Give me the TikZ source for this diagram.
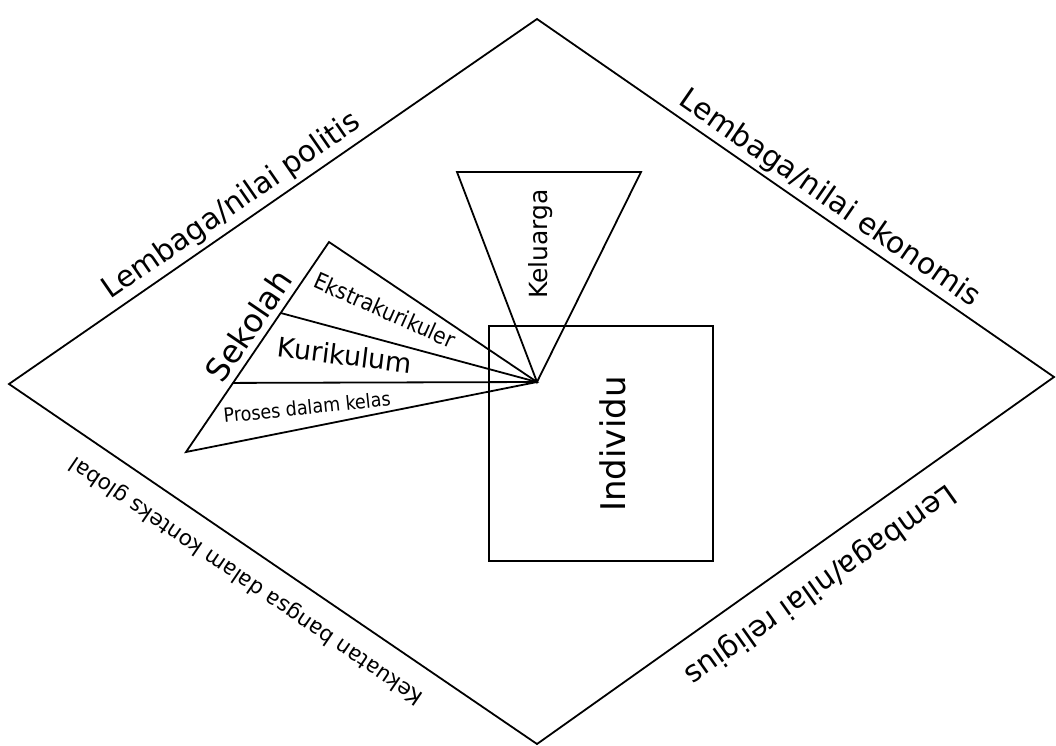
\documentclass[tikz,border=0pt]{standalone}
\usepackage{fontspec}
\setmainfont{DejaVu Sans}
\newfontfamily\condfont{DejaVu Sans Condensed}
\usetikzlibrary{calc}
\tikzstyle{edge} = [line width=1.8pt, line join=miter]
\tikzstyle{rim} = [font=\fontsize{29.5}{36}\selectfont, inner sep=2pt]
\tikzstyle{part} = [font=\fontsize{26}{30}\selectfont, inner sep=0pt]
\tikzstyle{sub} = [font=\condfont\fontsize{22.5}{27}\selectfont, inner sep=0pt]

\begin{document}
\begin{tikzpicture}[x=1pt, y=-1pt]
	\useasboundingbox (0,0) rectangle (1056,745);
	% outer diamond
	\coordinate (top) at (537,19);
	\coordinate (left) at (9,384);
	\coordinate (bottom) at (537,744);
	\coordinate (right) at (1054,377);
	\draw[edge] (top) -- (right) -- (bottom) -- (left) -- cycle;
	\path (left) -- (top) node[rim, sloped, pos=.443, above=3pt] {Lembaga/nilai politis};
	\path (top) -- (right) node[rim, sloped, pos=.545, above=2pt] {Lembaga/nilai ekonomis};
	\path (right) -- (bottom) node[rim, sloped, allow upside down, pos=.49, above=17pt] {Lembaga/nilai religius};
	\path (bottom) -- (left) node[rim, sloped, allow upside down, pos=.52, above=16pt, font=\fontsize{21.5}{26}\selectfont] {Kekuatan bangsa dalam konteks global};

	% individu
	\node (indiv) [draw, line width=1.8pt, minimum width=224pt, minimum height=235pt] at (601,443.5) {};
	\node (indivtxt) [part, rotate=90, font=\fontsize{34}{40}\selectfont] at (613,444) {Individu};

	% sekolah fan
	\coordinate (apex) at (537,382);
	\coordinate (sek1) at (329,242);
	\coordinate (sek2) at (186,452);
	\coordinate (cut1) at ($(sek2)!.662!(sek1)$);
	\coordinate (cut2) at ($(sek2)!.329!(sek1)$);
	\draw[edge] (apex) -- (sek1) -- (sek2) -- cycle;
	\draw[edge] (apex) -- (cut1);
	\draw[edge] (apex) -- (cut2);
	\path (sek2) -- (sek1) node[part, sloped, pos=.55, above=7pt, font=\fontsize{32}{38}\selectfont] {Sekolah};
	\node (ekstra) [sub, rotate=-24] at (385,310) {Ekstrakurikuler};
	\node (kurik) [part, rotate=-7, font=\fontsize{27}{32}\selectfont] at (345,355) {Kurikulum};
	\node (proses) [sub, rotate=6, font=\condfont\fontsize{19.5}{23}\selectfont] at (307,407) {Proses dalam kelas};

	% keluarga
	\coordinate (kel1) at (457,172);
	\coordinate (kel2) at (641,172);
	\draw[edge] (apex) -- (kel1) -- (kel2) -- cycle;
	\node (keltxt) [part, rotate=90, font=\fontsize{25}{30}\selectfont] at (541,244) {Keluarga};
\end{tikzpicture}
\end{document}
